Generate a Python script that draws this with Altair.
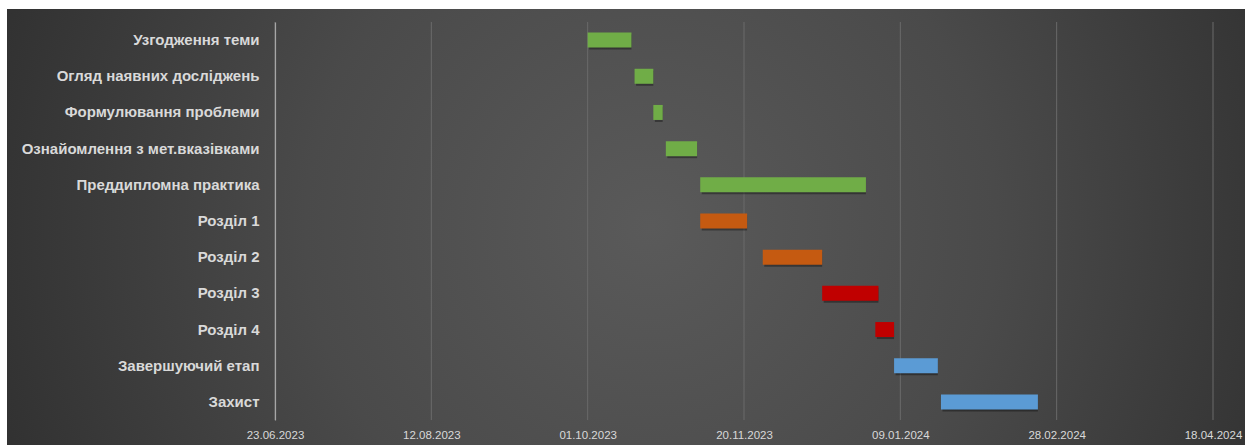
import altair as alt
import pandas as pd

tasks = ["Узгодження теми", "Огляд наявних досліджень", "Формулювання проблеми",
         "Ознайомлення з мет.вказівками", "Преддипломна практика", "Розділ 1",
         "Розділ 2", "Розділ 3", "Розділ 4", "Завершуючий етап", "Захист"]
starts = ["2023-10-01", "2023-10-16", "2023-10-22", "2023-10-26", "2023-11-06", "2023-11-06",
          "2023-11-26", "2023-12-15", "2024-01-01", "2024-01-07", "2024-01-22"]
ends = ["2023-10-15", "2023-10-22", "2023-10-25", "2023-11-05", "2023-12-29", "2023-11-21",
        "2023-12-15", "2024-01-02", "2024-01-07", "2024-01-21", "2024-02-22"]
groups = ["g", "g", "g", "g", "g", "o", "o", "r", "r", "b", "b"]
tick_dates = [(2023, 6, 23), (2023, 8, 12), (2023, 10, 1), (2023, 11, 20),
              (2024, 1, 9), (2024, 2, 28), (2024, 4, 18)]

group_names = ["g", "o", "r", "b"]
group_colors = ["#70ad47", "#c55a11", "#c00000", "#5b9bd5"]

df = pd.DataFrame({"task": tasks, "start": starts, "end": ends, "grp": groups})
grid_df = pd.DataFrame({"d": ["%04d-%02d-%02d" % t for t in tick_dates]})

W, H = 938, 398
dt_vals = [alt.DateTime(year=y, month=m, date=d, utc=True) for (y, m, d) in tick_dates]
xscale = alt.Scale(type="utc", domain=[dt_vals[0], dt_vals[-1]], nice=False)
yscale = alt.Scale(domain=tasks, paddingInner=0.585, paddingOuter=0.2925)

xaxis = alt.Axis(values=dt_vals, labelExpr="utcFormat(datum.value, '%d.%m.%Y')",
                 grid=False, domain=False, ticks=False,
                 labelColor="#d9d9d9", labelFontSize=11.5, labelFont="Liberation Sans",
                 labelPadding=9, labelOverlap=False, labelFlush=False, zindex=1)
yaxis = alt.Axis(domain=True, domainColor="#a6a6a6", domainWidth=1.2, ticks=False,
                 grid=False, labelColor="#d9d9d9", labelFontSize=15,
                 labelFont="Liberation Sans", labelFontWeight="bold",
                 labelPadding=16, labelLimit=300, zindex=1)

bg = alt.Chart(pd.DataFrame({"a": [0]})).mark_rect(
    fill=alt.RadialGradient(
        gradient="radial", x1=0.52, y1=0.5, r1=0, x2=0.52, y2=0.5, r2=0.62,
        stops=[alt.GradientStop(color="#5a5a5a", offset=0),
               alt.GradientStop(color="#4a4a4a", offset=0.45),
               alt.GradientStop(color="#2b2b2b", offset=1)]),
    strokeWidth=0,
).encode(x=alt.value(-268), x2=alt.value(970), y=alt.value(-13), y2=alt.value(423))

grid = alt.Chart(grid_df).mark_rule(color="#6a6a6a", strokeWidth=1).encode(
    x=alt.X("d:T", scale=xscale, title=None, axis=xaxis),
    y=alt.value(0), y2=alt.value(H),
)

shadow = alt.Chart(df).mark_bar(color="#000000", opacity=0.35, xOffset=1.5, yOffset=2,
                                cornerRadius=0).encode(
    x=alt.X("start:T", scale=xscale, title=None, axis=xaxis),
    x2="end:T",
    y=alt.Y("task:N", scale=yscale, title=None, sort=tasks, axis=yaxis),
)

bars = alt.Chart(df).mark_bar(cornerRadius=0).encode(
    x=alt.X("start:T", scale=xscale, title=None, axis=xaxis),
    x2="end:T",
    y=alt.Y("task:N", scale=yscale, title=None, sort=tasks, axis=yaxis),
    color=alt.Color("grp:N", scale=alt.Scale(domain=group_names, range=group_colors),
                    legend=None),
)

chart = alt.layer(bg, grid, shadow, bars).properties(
    width=W, height=H,
    padding={"left": 275, "top": 22, "right": 32, "bottom": 25},
    autosize=alt.AutoSizeParams(type="none"),
    background="#ffffff",
).configure_view(stroke=None)

chart.save("out.html", embed_options={"renderer": "svg", "actions": False})
